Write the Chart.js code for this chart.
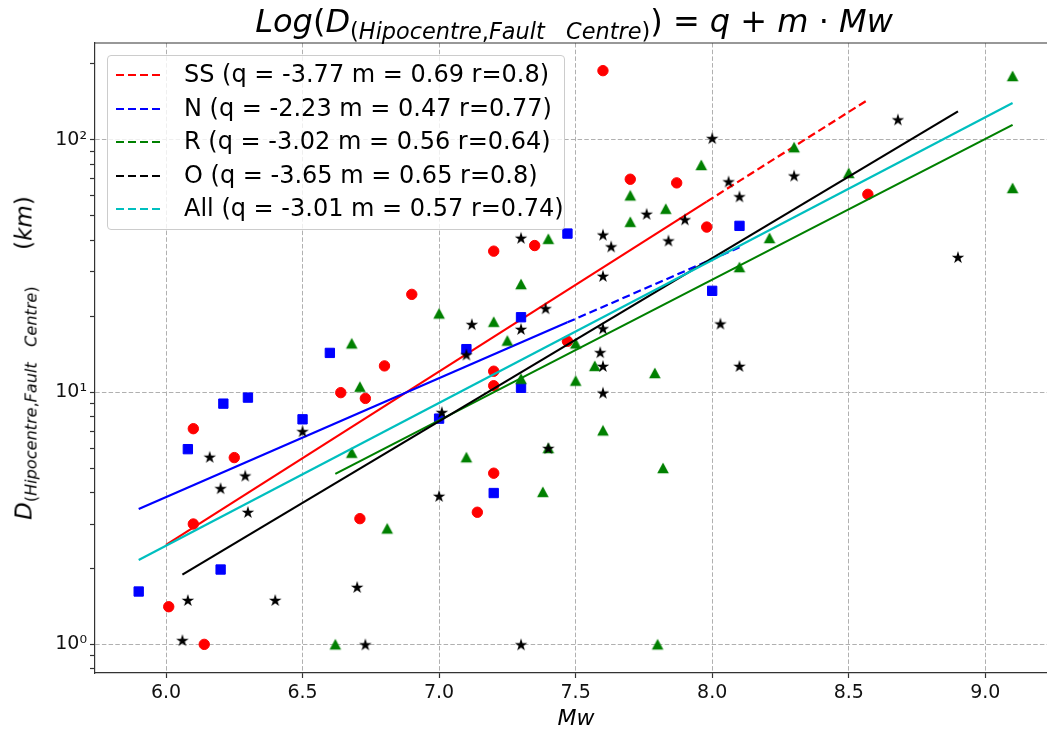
<!DOCTYPE html>
<html>
<head>
<meta charset="utf-8">
<script src="https://cdn.jsdelivr.net/npm/chart.js@4.4.0/dist/chart.umd.min.js"></script>
<style>
  html, body { margin:0; padding:0; background:#fff; }
  body { width:1047px; height:733px; overflow:hidden; position:relative; font-family:"DejaVu Sans", sans-serif; color:#000; }
  #wrap { position:absolute; left:0; top:0; width:1047px; height:733px; }
  #title { position:absolute; left:574px; top:2px; transform:translateX(-50%); white-space:nowrap; font-size:32px; line-height:38px; }
  #title sub, #ylab sub { font-size:70%; vertical-align:baseline; position:relative; top:0.3em; }
  #ylab { position:absolute; left:25px; top:358px; transform:translate(-50%,-50%) rotate(-90deg); white-space:nowrap; font-size:23px; line-height:30px; }
  #xlab { position:absolute; left:576px; top:717px; transform:translate(-50%,-50%); white-space:nowrap; font-size:22px; font-style:italic; }
  #legend { position:absolute; left:107px; top:55px; width:456px; height:173px; border:1px solid #cccccc; border-radius:4px; background:rgba(255,255,255,0.8); }
  .row { position:absolute; left:0; height:30px; width:456px; }
  .row svg { position:absolute; left:8px; top:14px; }
  .row span { position:absolute; left:76px; top:0; font-size:24px; line-height:30px; white-space:nowrap; }
</style>
</head>
<body>
<div id="wrap"><canvas id="c" width="1047" height="733" style="width:1047px;height:733px"></canvas></div>
<div id="title"><i>Log</i>(<i>D</i><sub>(<i>Hipocentre</i>,<i>Fault</i>&nbsp;&nbsp;&nbsp;<i>Centre</i>)</sub>)&nbsp;=&nbsp;<i>q</i>&nbsp;+&nbsp;<i>m</i>&nbsp;·&nbsp;<i>Mw</i></div>
<div id="ylab"><i>D</i><sub>(<i>Hipocentre</i>,<i>Fault</i>&nbsp;&nbsp;&nbsp;<i>Centre</i>)</sub>&nbsp;&nbsp;&nbsp;&nbsp;&nbsp;(<i>km</i>)</div>
<div id="xlab">Mw</div>
<div id="legend"></div>
<script>
// ---------------- data ----------------
const ssX = [6.01, 6.14, 6.10, 6.10, 6.25, 6.64, 6.73, 6.71, 6.80, 6.90, 7.14, 7.20, 7.20, 7.20, 7.20, 7.35, 7.47, 7.60, 7.70, 7.87, 7.98, 8.57];
const ssY = [1.41, 1.00, 3.00, 7.16, 5.50, 9.95, 9.44, 3.15, 12.7, 24.4, 3.34, 4.77, 10.6, 12.1, 36.2, 38.1, 15.9, 188, 69.8, 67.5, 45.1, 60.8];

const nX = [5.90, 6.08, 6.20, 6.21, 6.30, 6.50, 6.60, 7.00, 7.10, 7.20, 7.30, 7.30, 7.47, 8.00, 8.10];
const nY = [1.62, 5.94, 1.98, 9.00, 9.51, 7.80, 14.3, 7.85, 14.8, 3.98, 10.4, 19.8, 42.5, 25.2, 45.6];

const rX = [6.62, 6.68, 6.71, 6.68, 6.81, 7.00, 7.10, 7.20, 7.25, 7.30, 7.30, 7.38, 7.40, 7.40, 7.50, 7.50, 7.57, 7.60, 7.70, 7.70, 7.80, 7.79, 7.82, 7.83, 7.96, 8.10, 8.21, 8.30, 8.50, 9.10, 9.10];
const rY = [1.00, 5.75, 10.5, 15.6, 2.88, 20.5, 5.52, 19.0, 16.0, 26.8, 11.3, 4.02, 6.00, 40.5, 11.1, 15.6, 12.7, 7.05, 60.2, 47.3, 1.00, 11.9, 5.00, 53.3, 79.5, 31.3, 40.8, 93.5, 73.9, 179, 64.4];

const oX = [6.06, 6.08, 6.16, 6.20, 6.29, 6.30, 6.40, 6.50, 6.70, 6.73, 7.00, 7.01, 7.10, 7.12, 7.30, 7.30, 7.30, 7.39, 7.40, 7.59, 7.60, 7.60, 7.60, 7.60, 7.60, 7.63, 7.76, 7.84, 7.90, 8.00, 8.03, 8.06, 8.10, 8.10, 8.30, 8.68, 8.90];
const oY = [1.04, 1.50, 5.54, 4.16, 4.67, 3.35, 1.50, 7.00, 1.69, 1.00, 3.88, 8.33, 14.1, 18.6, 17.8, 1.00, 40.9, 21.5, 6.00, 14.4, 12.7, 9.95, 17.9, 28.9, 42.1, 37.8, 50.9, 39.9, 48.4, 101.6, 18.7, 68.4, 59.7, 12.7, 72.2, 120.5, 34.3];

// fitted lines: end points (solid part, dashed extension)
const ssFitX = [6.00, 7.98];  const ssFitY = [2.48, 56.9];
const ssExtX = [7.98, 8.57];  const ssExtY = [56.9, 144];
const nFitX  = [5.90, 7.47];  const nFitY  = [3.44, 18.9];
const nExtX  = [7.47, 8.10];  const nExtY  = [18.9, 37.5];
const rFitX  = [6.62, 9.10];  const rFitY  = [4.74, 114.6];
const oFitX  = [6.06, 8.90];  const oFitY  = [1.89, 129.6];
const allFitX = [5.90, 9.10]; const allFitY = [2.16, 140];

const legendLabels = [
  'SS (q = -3.77 m = 0.69 r=0.8)',
  'N (q = -2.23 m = 0.47 r=0.77)',
  'R (q = -3.02 m = 0.56 r=0.64)',
  'O (q = -3.65 m = 0.65 r=0.8)',
  'All (q = -3.01 m = 0.57 r=0.74)'
];
const xTickVals = [6.0, 6.5, 7.0, 7.5, 8.0, 8.5, 9.0];
const yTickVals = [0.8, 0.9, 1, 2, 3, 4, 5, 6, 7, 8, 9, 10, 20, 30, 40, 50, 60, 70, 80, 90, 100, 200];
const yTickLabels = {1: '10\u2070', 10: '10\u00B9', 100: '10\u00B2'};

// ---------------- styles ----------------
const C_SS = '#ff0000', C_N = '#0000ff', C_R = '#008000', C_O = '#000000', C_ALL = '#00bfbf';

function pts(xs, ys) { return xs.map((x, i) => ({x: x, y: ys[i]})); }

function starImg(color) {
  const c = document.createElement('canvas'); c.width = 16; c.height = 16;
  const g = c.getContext('2d'); g.fillStyle = color; g.beginPath();
  const R = 6.6, r = R * 0.382;
  for (let k = 0; k < 10; k++) {
    const a = -Math.PI / 2 + k * Math.PI / 5, rad = k % 2 ? r : R;
    const px = 8 + rad * Math.cos(a), py = 8.7 + rad * Math.sin(a);
    k ? g.lineTo(px, py) : g.moveTo(px, py);
  }
  g.closePath(); g.fill(); return c;
}
function triImg(color) {
  const c = document.createElement('canvas'); c.width = 14; c.height = 14;
  const g = c.getContext('2d'); g.fillStyle = color; g.beginPath();
  g.moveTo(7, 1.5); g.lineTo(12.8, 12.3); g.lineTo(1.2, 12.3); g.closePath(); g.fill(); return c;
}

// draw sequence (first = bottom)
const seq = [
  {type:'scatter', data: pts(ssX, ssY), pointStyle:'circle', pointRadius:5.2, backgroundColor:C_SS, borderColor:C_SS, borderWidth:1},
  {type:'line', data: pts(ssFitX, ssFitY), borderColor:C_SS, borderWidth:2.2, pointRadius:0},
  {type:'line', data: pts(ssExtX, ssExtY), borderColor:C_SS, borderWidth:2.2, pointRadius:0, borderDash:[8,4]},
  {type:'scatter', data: pts(nX, nY), pointStyle:'rect', pointRadius:6.6, backgroundColor:C_N, borderColor:C_N, borderWidth:1},
  {type:'line', data: pts(nFitX, nFitY), borderColor:C_N, borderWidth:2.2, pointRadius:0},
  {type:'line', data: pts(nExtX, nExtY), borderColor:C_N, borderWidth:2.2, pointRadius:0, borderDash:[8,4]},
  {type:'scatter', data: pts(rX, rY), pointStyle: triImg(C_R), pointRadius:7},
  {type:'line', data: pts(rFitX, rFitY), borderColor:C_R, borderWidth:2.2, pointRadius:0},
  {type:'scatter', data: pts(oX, oY), pointStyle: starImg(C_O), pointRadius:8},
  {type:'line', data: pts(oFitX, oFitY), borderColor:C_O, borderWidth:2.2, pointRadius:0},
  {type:'line', data: pts(allFitX, allFitY), borderColor:C_ALL, borderWidth:2.2, pointRadius:0}
];
const datasets = seq.map((d, k) => Object.assign({order: 100 - k, showLine: d.type === 'line', fill:false, tension:0, clip:false}, d));

// top spine (the right spine lies outside the cropped picture)
const frame = {
  id: 'frame',
  afterDatasetsDraw(chart) {
    const a = chart.chartArea, g = chart.ctx;
    g.save(); g.strokeStyle = '#333'; g.lineWidth = 1.2;
    g.beginPath(); g.moveTo(a.left, a.top); g.lineTo(a.right + 2, a.top); g.stroke();
    g.restore();
  }
};

const tickFont = {family: 'DejaVu Sans', size: 19};
new Chart(document.getElementById('c'), {
  type: 'scatter',
  data: { datasets: datasets },
  plugins: [frame],
  options: {
    responsive: false, animation: false, devicePixelRatio: 1,
    layout: { autoPadding: false, padding: {left: 0, top: 43, right: 0, bottom: 0} },
    plugins: { legend: {display: false}, tooltip: {enabled: false} },
    scales: {
      x: {
        type: 'linear', min: 5.74, max: 9.226,
        afterBuildTicks: s => { s.ticks = xTickVals.map(v => ({value: v})); },
        afterFit: s => { s.height = 60; s.paddingLeft = 0; s.paddingRight = 0; },
        ticks: { font: tickFont, color: '#111', padding: 4, maxRotation: 0, autoSkip: false, callback: v => Number(v).toFixed(1) },
        grid: { color: '#b0b0b0', lineWidth: 1, tickColor: '#333', tickLength: 5, tickWidth: 1.2 },
        border: { display: true, color: '#333', width: 1.2, dash: [4.5, 2.2] }
      },
      y: {
        type: 'logarithmic', min: 0.77, max: 242,
        afterBuildTicks: s => { s.ticks = yTickVals.map(v => ({value: v})); },
        afterFit: s => { s.width = 95; s.paddingTop = 0; s.paddingBottom = 0; },
        ticks: { font: tickFont, color: '#111', padding: 3, autoSkip: false, callback: v => yTickLabels[v] || '' },
        grid: { color: c => (yTickLabels[c.tick && c.tick.value] ? '#b0b0b0' : 'rgba(0,0,0,0)'), lineWidth: 1, tickColor: '#333', tickLength: 5, tickWidth: 1.2 },
        border: { display: true, color: '#333', width: 1.2, dash: [4.5, 2.2] }
      }
    }
  }
});

// legend (HTML overlay inside the axes)
const legendColors = [C_SS, C_N, C_R, C_O, C_ALL];
const lg = document.getElementById('legend');
legendLabels.forEach((t, i) => {
  const row = document.createElement('div');
  row.className = 'row';
  row.style.top = (3 + 33.5 * i) + 'px';
  row.innerHTML = '<svg width="48" height="4"><line x1="0" y1="2" x2="46" y2="2" stroke="' + legendColors[i] +
    '" stroke-width="2.2" stroke-dasharray="8,4"/></svg><span>' + t + '</span>';
  lg.appendChild(row);
});
</script>
</body>
</html>
